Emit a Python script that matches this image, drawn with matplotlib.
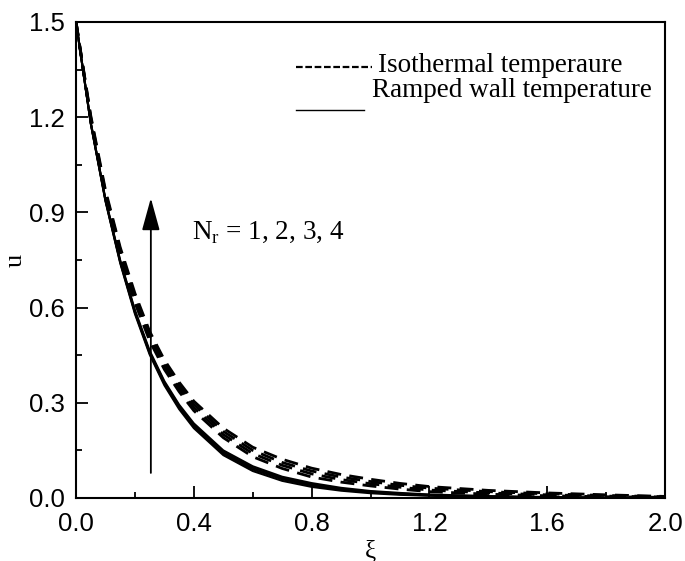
import matplotlib
matplotlib.use("Agg")
import matplotlib.pyplot as plt

# values
xi = [0.0, 0.05, 0.1, 0.15, 0.2, 0.25, 0.3, 0.35, 0.4, 0.5, 0.6, 0.7,
      0.8, 0.9, 1.0, 1.1, 1.2, 1.4, 1.6, 1.8, 2.0]

# isothermal temperature, Nr = 1, 2, 3, 4
iso_nr1 = [1.5, 1.19, 0.95, 0.765, 0.615, 0.495, 0.405, 0.335, 0.275, 0.19, 0.13, 0.093,
           0.066, 0.05, 0.038, 0.028, 0.02, 0.012, 0.007, 0.004, 0.002]
iso_nr2 = [1.5, 1.195, 0.957, 0.775, 0.625, 0.505, 0.415, 0.345, 0.285, 0.2, 0.14, 0.103,
           0.076, 0.058, 0.045, 0.034, 0.025, 0.016, 0.01, 0.006, 0.003]
iso_nr3 = [1.5, 1.2, 0.963, 0.783, 0.635, 0.515, 0.425, 0.355, 0.295, 0.21, 0.15, 0.112,
           0.085, 0.066, 0.052, 0.04, 0.031, 0.02, 0.013, 0.008, 0.004]
iso_nr4 = [1.5, 1.205, 0.97, 0.79, 0.645, 0.525, 0.435, 0.365, 0.305, 0.22, 0.16, 0.122,
           0.094, 0.074, 0.059, 0.046, 0.036, 0.024, 0.016, 0.01, 0.005]

# ramped wall temperature, Nr = 1, 2, 3, 4
ramp_nr1 = [1.5, 1.18, 0.935, 0.74, 0.58, 0.452, 0.355, 0.28, 0.22, 0.135, 0.085, 0.054,
            0.035, 0.023, 0.015, 0.01, 0.007, 0.003, 0.001, 0.0005, 0.0]
ramp_nr2 = [1.5, 1.18, 0.937, 0.743, 0.584, 0.456, 0.36, 0.285, 0.225, 0.14, 0.09, 0.059,
            0.039, 0.026, 0.018, 0.012, 0.008, 0.004, 0.002, 0.001, 0.0]
ramp_nr3 = [1.5, 1.182, 0.939, 0.746, 0.588, 0.46, 0.364, 0.29, 0.23, 0.145, 0.095, 0.063,
            0.043, 0.029, 0.02, 0.014, 0.01, 0.005, 0.002, 0.001, 0.0]
ramp_nr4 = [1.5, 1.183, 0.941, 0.749, 0.592, 0.464, 0.368, 0.294, 0.235, 0.15, 0.1, 0.067,
            0.047, 0.032, 0.022, 0.016, 0.011, 0.006, 0.003, 0.001, 0.0]

x_ticks = [0.0, 0.4, 0.8, 1.2, 1.6, 2.0]
y_ticks = [0.0, 0.3, 0.6, 0.9, 1.2, 1.5]
arrow_x = 0.254
arrow_from = 0.079
arrow_to = 0.945

serif = "Liberation Serif"
sans = "Liberation Sans"

fig = plt.figure(figsize=(6.85, 5.61), dpi=100)
ax = fig.add_axes([0.111, 0.1123, 0.86, 0.8485])

for u in [iso_nr1, iso_nr2, iso_nr3, iso_nr4]:
    ax.plot(xi, u, color="black", lw=2.0, linestyle=(0, (5, 3)))
for u in [ramp_nr1, ramp_nr2, ramp_nr3, ramp_nr4]:
    ax.plot(xi, u, color="black", lw=1.5)

ax.annotate("", xy=(arrow_x, arrow_to), xytext=(arrow_x, arrow_from),
            arrowprops=dict(arrowstyle="-|>,head_length=0.8,head_width=0.22",
                            lw=1.3, color="black", mutation_scale=25,
                            shrinkA=0, shrinkB=0))
ax.text(0.394, 0.838, "N$_\\mathregular{r}$ = 1, 2, 3, 4", fontfamily=serif,
        fontsize=19.5, va="center", ha="left")

# hand drawn legend
ax.plot([0.3735, 0.5025], [0.9055, 0.9055], transform=ax.transAxes, color="black",
        lw=1.6, linestyle=(0, (3, 1.2)), clip_on=False)
ax.text(0.5127, 0.895, "Isothermal temperaure", transform=ax.transAxes,
        fontfamily=serif, fontsize=19.5, va="baseline", ha="left")
ax.plot([0.3735, 0.489], [0.815, 0.815], transform=ax.transAxes, color="black",
        lw=1.0, clip_on=False)
ax.text(0.5025, 0.8424, "Ramped wall temperature", transform=ax.transAxes,
        fontfamily=serif, fontsize=19.5, va="baseline", ha="left")

ax.set_xlim(0, 2.0)
ax.set_ylim(0, 1.5)
ax.set_xticks(x_ticks)
ax.set_yticks(y_ticks)
ax.set_xticks([0.2, 0.6, 1.0, 1.4, 1.8], minor=True)
ax.set_yticks([0.15, 0.45, 0.75, 1.05, 1.35], minor=True)
ax.set_xticklabels([f"{v:.1f}" for v in x_ticks], fontfamily=sans, fontsize=18.5)
ax.set_yticklabels([f"{v:.1f}" for v in y_ticks], fontfamily=sans, fontsize=18.5)
ax.tick_params(axis="x", which="major", direction="in", length=8.5, width=1.3, pad=10)
ax.tick_params(axis="y", which="major", direction="in", length=8.5, width=1.3, pad=8)
ax.tick_params(which="minor", direction="in", length=4.5, width=1.3)
for s in ax.spines.values():
    s.set_linewidth(1.5)

ax.set_xlabel("ξ", fontfamily=serif, fontsize=18, labelpad=3)
ax.set_ylabel("u", fontfamily=serif, fontsize=19, labelpad=2)

fig.savefig("out.png", dpi=100)
